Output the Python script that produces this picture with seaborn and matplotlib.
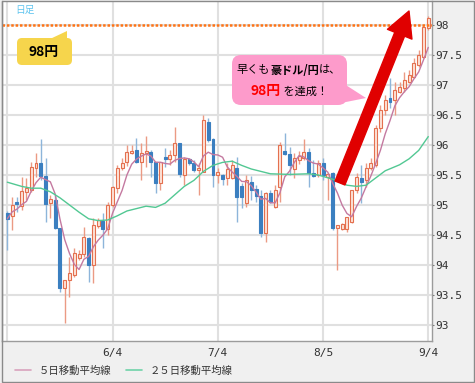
import numpy as np
import pandas as pd
import matplotlib
matplotlib.use("Agg")
import matplotlib.pyplot as plt
import matplotlib.transforms as mtransforms
from matplotlib.patches import FancyBboxPatch, Polygon, Rectangle
from matplotlib.lines import Line2D
from matplotlib.offsetbox import TextArea, HPacker, AnnotationBbox
import seaborn as sns


# ==================================================
# DATA (AUD/JPY daily candles)
# ==================================================
opens = [94.87, 94.82, 95.05, 94.98, 95.22, 95.25, 95.62, 95.70, 95.48, 95.03,
         95.08, 94.62, 93.62, 93.75, 93.83, 94.12, 94.18, 94.45, 94.00, 94.65,
         94.73, 94.60, 95.00, 95.28, 95.62, 95.72, 95.87, 95.92, 95.72, 95.87,
         95.88, 95.72, 95.37, 95.80, 95.77, 95.83, 96.03, 95.50, 95.77, 95.70,
         95.58, 95.55, 96.38, 96.10, 95.50, 95.50, 95.45, 95.45, 95.62, 95.32,
         95.03, 95.38, 95.27, 95.15, 94.53, 95.20, 94.97, 95.30, 95.90, 95.85,
         95.60, 95.75, 95.78, 95.88, 95.53, 95.50, 95.70, 95.47, 95.53, 94.62,
         94.60, 94.60, 94.72, 95.25, 95.45, 95.42, 95.62, 95.67, 96.28, 96.58,
         96.78, 96.75, 96.88, 96.95, 97.05, 97.13, 97.33, 97.47, 97.95]
highs = [94.90, 95.13, 95.13, 95.47, 95.45, 95.72, 95.87, 96.10, 95.78, 95.17,
         95.17, 94.62, 93.75, 94.13, 94.28, 94.25, 94.63, 94.47, 94.78, 94.78,
         94.87, 95.05, 95.32, 95.67, 95.78, 96.00, 96.00, 96.12, 96.03, 96.15,
         95.92, 95.72, 95.72, 95.95, 95.92, 96.30, 96.03, 95.80, 95.78, 95.75,
         95.70, 96.50, 96.45, 96.12, 95.62, 95.52, 95.70, 95.75, 95.80, 95.37,
         95.50, 95.48, 95.33, 95.25, 95.22, 95.25, 95.33, 96.05, 96.20, 95.97,
         95.87, 95.90, 96.10, 95.95, 95.75, 95.75, 95.78, 95.53, 95.55, 94.67,
         94.70, 94.80, 95.25, 95.53, 95.67, 95.70, 95.78, 96.33, 96.67, 96.83,
         97.12, 97.05, 97.05, 97.22, 97.25, 97.45, 97.58, 98.00, 98.15]
lows = [94.25, 94.58, 94.88, 94.92, 95.08, 95.22, 95.47, 95.42, 94.72, 94.78,
        94.60, 93.55, 93.03, 93.47, 93.80, 94.08, 94.13, 93.72, 93.70, 94.62,
        94.28, 94.50, 94.97, 95.20, 95.58, 95.65, 95.85, 95.70, 95.42, 95.63,
        95.47, 95.20, 95.25, 95.63, 95.67, 95.72, 95.47, 95.33, 95.67, 95.55,
        95.17, 95.55, 96.05, 95.30, 95.37, 95.33, 95.33, 95.43, 94.72, 94.95,
        94.97, 95.08, 95.05, 94.47, 94.38, 95.03, 94.95, 95.05, 95.83, 95.50,
        95.45, 95.68, 95.75, 95.30, 95.47, 95.47, 95.42, 95.08, 94.58, 93.92,
        94.58, 94.55, 94.70, 95.20, 95.03, 95.30, 95.58, 95.63, 96.22, 96.50,
        96.62, 96.50, 96.87, 96.88, 97.03, 97.12, 97.30, 97.45, 97.92]
closes = [94.77, 95.00, 95.02, 95.23, 95.28, 95.63, 95.70, 95.48, 95.02, 95.10,
          94.62, 93.62, 93.75, 93.87, 94.20, 94.18, 94.47, 94.00, 94.67, 94.75,
          94.60, 95.00, 95.30, 95.62, 95.70, 95.88, 95.90, 95.72, 95.87, 95.88,
          95.72, 95.37, 95.72, 95.77, 95.83, 96.03, 95.52, 95.77, 95.70, 95.58,
          95.62, 96.42, 96.08, 95.50, 95.55, 95.43, 95.60, 95.67, 95.13, 95.13,
          95.42, 95.25, 95.15, 94.53, 95.20, 95.05, 95.25, 96.00, 95.85, 95.67,
          95.78, 95.82, 95.88, 95.53, 95.48, 95.70, 95.50, 95.52, 94.62, 94.67,
          94.68, 94.80, 95.25, 95.47, 95.38, 95.62, 95.70, 96.28, 96.58, 96.75,
          96.72, 96.92, 96.97, 97.08, 97.17, 97.37, 97.50, 97.97, 98.12]

# 25-day moving average, read at these candle positions
ma25_idx = [0, 3, 5, 7, 9, 11, 13, 15, 17, 19, 21, 23, 25, 27, 29, 31, 33, 35,
            37, 39, 41, 43, 45, 47, 49, 51, 53, 55, 59, 63, 65, 68, 71, 73, 75,
            77, 79, 82, 84, 86, 88]
ma25_val = [95.38, 95.31, 95.28, 95.28, 95.22, 95.12, 95.00, 94.88, 94.77, 94.74,
            94.75, 94.82, 94.90, 94.94, 94.98, 94.96, 95.03, 95.17, 95.31, 95.41,
            95.56, 95.66, 95.71, 95.73, 95.66, 95.60, 95.56, 95.52, 95.51, 95.52,
            95.50, 95.43, 95.33, 95.31, 95.33, 95.45, 95.57, 95.67, 95.77, 95.91,
            96.14]

tick_pos = [0, 22, 44, 66, 88]
tick_labels = ["", "6/4", "7/4", "8/5", "9/4"]
y_ticks = [93, 93.5, 94, 94.5, 95, 95.5, 96, 96.5, 97, 97.5, 98]
target_price = 98.0
legend_labels = ["５日移動平均線", "２５日移動平均線"]


# ==================================================
# STYLE
# ==================================================
sns.set_theme(style="white")
plt.rcParams["font.family"] = ["Noto Sans CJK JP", "DejaVu Sans"]

UP_EDGE = "#e4704f"
UP_FACE = "#fde4d9"
UP_WICK = "#eb9a84"
DN_FACE = "#3b7fc0"
DN_WICK = "#8db5da"
MA5_COLOR = "#c479a0"
MA25_COLOR = "#52c893"

W, H = 475, 383

df = pd.DataFrame({
    "idx": np.arange(len(opens)),
    "open": opens,
    "high": highs,
    "low": lows,
    "close": closes,
})
df["up"] = df["close"] >= df["open"]
df["ma5"] = df["close"].rolling(5, min_periods=1).mean()
ma25_df = pd.DataFrame({"idx": ma25_idx, "ma25": ma25_val})

fig = plt.figure(figsize=(W / 100, H / 100), dpi=100, facecolor="#f0f0f0")
ax = fig.add_axes([2 / W, 1 - 341 / H, 430 / W, 340 / H])
ax.set_facecolor("white")

# pixel transform (origin top-left) for callouts
pix = mtransforms.Affine2D().scale(1, -1).translate(0, H)

# ==================================================
# CANDLES
# ==================================================
wick_colors = np.where(df["up"], UP_WICK, DN_WICK)
ax.vlines(df["idx"], df["low"], df["high"], colors=wick_colors, lw=1, zorder=2)

body_bottom = df[["open", "close"]].min(axis=1)
body_height = (df["close"] - df["open"]).abs().clip(lower=0.025)
ax.bar(
    df["idx"], body_height, bottom=body_bottom, width=0.62,
    color=np.where(df["up"], UP_FACE, DN_FACE),
    edgecolor=np.where(df["up"], UP_EDGE, DN_FACE),
    linewidth=0.8, zorder=3
)

# moving averages
sns.lineplot(data=df, x="idx", y="ma5", color=MA5_COLOR, lw=1, ax=ax, zorder=4)
sns.lineplot(data=ma25_df, x="idx", y="ma25", color=MA25_COLOR, lw=1, ax=ax, zorder=4)

# 98 yen target line
ax.axhline(target_price, color="#ff7315", lw=1.8, linestyle=(0, (1, 0.75)),
           dash_capstyle="butt", zorder=5)

# ==================================================
# AXES
# ==================================================
ax.set_xlim(-1.11, 88.78)
ax.set_ylim(92.733, 98.4)
ax.set_xticks(tick_pos)
ax.set_xticklabels(tick_labels)
ax.set_yticks(y_ticks)
ax.set_yticklabels([f"{v:g}" for v in y_ticks])
ax.yaxis.tick_right()
ax.set_xlabel("")
ax.set_ylabel("")
ax.grid(True, color="#e0e0e0", lw=1.5, zorder=0)
ax.set_axisbelow(True)
ax.tick_params(axis="y", right=True, length=1.5, width=0.8, color="#777777",
               pad=0.5, labelsize=8, labelcolor="#333333")
ax.tick_params(axis="x", bottom=False, length=0, pad=5, labelsize=8,
               labelcolor="#333333")
for lab in ax.get_xticklabels() + ax.get_yticklabels():
    lab.set_family("DejaVu Sans Mono")
for side, spine in ax.spines.items():
    spine.set_color("#9c9c9c")
    spine.set_linewidth(1)
ax.spines["top"].set_visible(False)

# outer frame
fig.add_artist(Rectangle((1.5, 0.5), 472, 381, transform=pix, fill=False,
                         ec="#8a8a8a", lw=1))

# ==================================================
# LEGEND
# ==================================================
handles = [Line2D([], [], color="#d9a3bd", lw=1.2),
           Line2D([], [], color="#6fd3a8", lw=1.2)]
fig.legend(handles, legend_labels, loc="center left",
           bbox_to_anchor=(15 / W, 1 - 371 / H), ncol=2, frameon=False,
           fontsize=7.5, handlelength=1.55, handletextpad=0.7,
           columnspacing=1.45, borderpad=0, borderaxespad=0,
           labelcolor="#333333")

# ==================================================
# ANNOTATIONS
# ==================================================
fig.text(15 / W, 1 - 10 / H, "日足", color="#5ec4ef", fontsize=7, va="center")

# yellow "98円" callout
fig.add_artist(FancyBboxPatch((17, 38), 55, 27,
                              boxstyle="round,pad=0,rounding_size=5",
                              transform=pix, fc="#f6d54c", ec="none"))
fig.add_artist(Polygon([(50, 39), (67, 31), (67, 39)], transform=pix,
                       fc="#f6d54c", ec="none"))
fig.text(44 / W, 1 - 52 / H, "98円", fontsize=10, weight="bold",
         color="black", ha="center", va="center")

# pink callout
fig.add_artist(FancyBboxPatch((232, 55), 115, 50,
                              boxstyle="round,pad=0,rounding_size=9",
                              transform=pix, fc="#fd9bcb", ec="none"))
fig.add_artist(Polygon([(338, 80), (366, 98), (336, 104)], transform=pix,
                       fc="#fd9bcb", ec="none"))

reg = dict(fontsize=8, color="black")
line1 = HPacker(children=[
    TextArea("早くも", textprops=reg),
    TextArea("豪ドル/円", textprops=dict(reg, weight="bold")),
    TextArea("は、", textprops=reg),
], sep=0, pad=0, align="baseline")
line2 = HPacker(children=[
    TextArea("98円", textprops=dict(fontsize=10, weight="bold", color="#ff0000")),
    TextArea(" を達成！", textprops=reg),
], sep=0, pad=0, align="baseline")
for box, yy in [(line1, 70), (line2, 91)]:
    fig.add_artist(AnnotationBbox(box, (289, yy), xycoords=pix,
                                  frameon=False, pad=0,
                                  box_alignment=(0.5, 0.5)))

# red arrow
fig.add_artist(matplotlib.text.Annotation(
    "", xy=(409, 11), xytext=(340, 183), xycoords=pix, textcoords=pix,
    arrowprops=dict(arrowstyle="simple,head_length=0.9,head_width=0.95,tail_width=0.38",
                    color="#e00000", mutation_scale=20, shrinkA=0, shrinkB=0)
))

fig.savefig("out.png", dpi=100, facecolor=fig.get_facecolor())
